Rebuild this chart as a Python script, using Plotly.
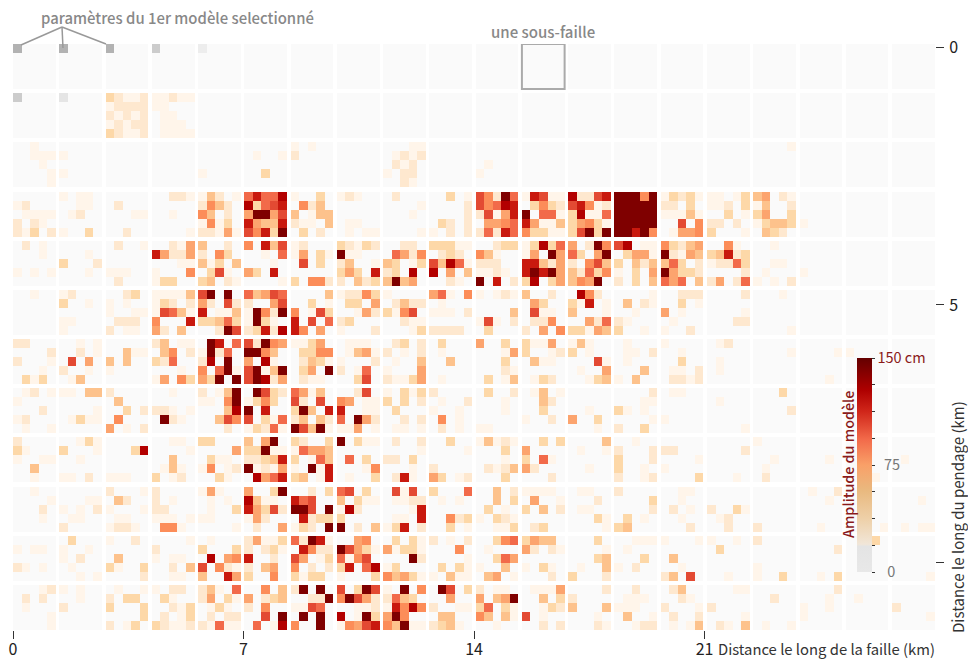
import plotly.graph_objects as go

# Amplitude levels (0-b) read per cell; one block of five digits = one sub-fault, 5 lines = one row of sub-faults
rangee_00 = ["", "", "", "", ""]
rangee_01 = [
"00000 00000 32112 11211",
"00000 00000 12222 11000",
"00000 00000 21212 01100",
"00000 00000 12122 01110",
"00000 00000 32112 01111"]
rangee_02 = [
"00100 00000 00000 00000 00000 00000 10100 00000 00011 00000 00000 00000 00000 00000 00000 00000 00001",
"00111 10000 00000 00000 00000 01001 20000 00000 01212",
"00010 00000 00000 00000 00000 00000 00000 00000 02120 00000 01000",
"00001 10000 00000 00000 10000 00300 00000 00000 10220 00000 10000",
"00001 00000 00000 00000 00000 00000 00000 00000 00210"]
rangee_03 = [
"00000 10110 00000 00221 14201 7977a 10030 12100 02000 00301 862b7 19811 a2289 bbb6b 13231 11013 45021",
"12000 00110 02000 00000 26420 a3789 06240 00000 00001 00002 867a9 03632 89612 bbbbb 22030 11203 14002",
"01111 01200 00011 00100 64020 5bb58 40144 00000 00010 00002 28159 b0771 3a117 bbbbb 11141 00301 35003",
"20210 00000 00000 00000 16130 95449 21104 01100 00000 03202 05567 95114 35631 bbbbb 00806 22020 13443 10000",
"21302 10030 00200 00001 22151 8693b 03020 01011 00001 10202 27297 63311 38b3b bb9b6 01556 30001 04320"]
rangee_04 = [
"02010 00000 02001 00215 40020 60948 12000 32132 00220 33311 00233 13a37 502b6 8a011 63245 00610 00100",
"00010 00010 00000 95225 20630 00107 15031 b1100 07526 02320 64100 150b5 7305b 03551 b2154 34923 00000",
"00000 30002 00000 00011 41304 00010 08030 24001 43013 84a71 22200 99425 20684 30424 47302 12273 00110",
"10101 00010 11100 10006 03810 53090 00000 35309 230a0 a0504 11210 9b9b5 42736 10305 b5332 00002 01000 10000",
"00000 00000 02000 13300 34021 00001 30662 20423 4b450 00210 b0902 3a035 465b0 20304 75704 25027 10102"]
rangee_05 = [
"00100 12000 00230 11114 8b0b0 74587 00004 12263 10000 57106 10121 40020 0a620 00001 00222 00002 00010",
"00000 30010 10100 13202 52082 20058 00301 03305 02422 01000 00000 05300 31901 04021 00301",
"00000 00000 10011 18741 90114 1b62b 60183 00152 31680 11102 00004 08110 40001 00100 50100 00001",
"00000 11000 02220 60009 33473 1b310 90807 23000 00211 00000 18102 02260 00527 21000 01000 00022",
"00000 10000 20110 52040 002b8 2392a 96050 10002 00013 22220 03000 20506 33154 30010 10020 00000 00001"]
rangee_06 = [
"22000 00101 00000 24011 0b907 82b65 11350 01110 02302 03000 50030 31150 14100 01000 10000 01200",
"00002 00201 00411 04602 1b270 bb640 03366 01451 20102 01000 00015 30012 30100 01102 00100 00000 00001 00001 10000",
"20001 08050 40400 32700 2a0b0 50a10 02431 10002 01004 00400 00030 04110 00081 01000 00300 01000",
"00010 20010 10000 00010 607b1 8b14b 0350b 20170 10005 00000 00021 00000 01005 00040 01102 01000",
"03130 01400 00000 15063 53b0b 8ba25 02110 00380 21135 01000 03014 01320 00134 10400 02212 00000 00000 00010"]
rangee_07 = [
"01201 11044 20000 00100 2014b 0b832 75140 00280 10313 20000 03002 01401 00000 00002 01100 00000 00030",
"10000 00000 04000 00000 1106b 13630 82080 65011 30302 01002 00010 00420 00000 00011 00000 01000",
"00020 00001 00302 22101 0004a b0900 3b409 90011 03000 10010 00010 00300 00100 31010 00000 00000 00002",
"12000 01311 06000 0b210 00486 80317 24042 70b52 00202 06010 00000 10020 50030 00001 10000",
"01001 00000 50102 00000 00020 13271 b84b1 11501 01101 02010 11000 00000 00010 20030 00000 00001"]
rangee_08 = [
"20000 00131 00000 00110 33000 405b0 32003 b0311 02002 00300 14121 00303 00004 00100 00000 00000 10000",
"31000 30001 0003a 00001 00005 33b11 17554 00000 00001 00001 00030 50000 01001 20002 22000 00002",
"10011 00100 00000 00400 03110 22349 30174 07030 22030 00000 00010 30710 00000 30002 00001 00000 00100 00010 00000 01000",
"00400 00000 00000 01410 16012 b1215 10b19 00016 00010 20000 02124 52000 00100 30010 10000 00000 01000",
"00100 11020 11100 30120 00310 0a579 34019 01003 02910 53012 00030 00020 00000 20012 00003 00010 02000 00000 00010"]
rangee_09 = [
"00100 00000 20001 20000 15100 5003b 00203 78030 08180 30007 00402 11110 01100 20000 00110 00000 00000 01002",
"00001 00011 04200 20100 01010 a4110 97800 40311 01122 01010 00403 05001 00020 00003 00100 00000 00000 00010 00000 00010",
"00020 10102 10001 22000 01003 95382 bb80b 1a200 00019 00000 03010 30402 01100 00002 02010 20031",
"00010 01100 01100 11101 11000 15200 09233 30000 01109 00623 10321 00000 00031 03010 00100 01200",
"00000 20000 12210 06610 00001 02005 1320b b0204 13902 00301 00113 02300 00001 34000 00020 00200 20000 00100 00001 01011"]
rangee_10 = [
"00000 03000 10020 00001 01000 25113 72b91 00560 03031 20102 00367 35440 00030 00111 10001 10010 20000 00000 00030",
"10110 10010 00000 20000 30003 20231 09622 b8531 51331 00060 01000 52021 00001 01000 00000 03000 00000 00002",
"00000 10200 04000 10110 0a056 90020 85013 71680 000b2 00001 00375 00000 00034 00030 04000",
"21010 01000 31003 00204 80621 20450 60202 3907a 13000 03031 10040 10310 01004 10200 00100 00000 10000",
"00000 00101 00002 00110 40095 30060 31330 10003 64531 10411 04501 00020 30002 00000 24080 00100 10030 00103 00000 00001"]
rangee_11 = [
"00012 10100 01001 10220 24107 00604 2b0b0 803b8 10b06 0b803 20110 01115 00002 00200 02400 00011 00000 00002",
"02020 00100 20330 03100 25031 50234 0022b 6b852 27430 00500 5045b 00403 20000 01110 00210 00000 00200 00010 01000",
"01000 20000 30003 00213 01310 20600 11870 00112 196a6 20011 37031 00132 40004 11100 20001 20000 00000 10010 00000 20000",
"00001 00000 00003 02013 02022 0080b 0b0b0 a01b3 5b600 04400 64041 80100 00010 04001 02002 00001 00000 10000 00000 00001",
"00001 00000 20130 32112 21711 0701a 600b0 16589 64b11 23410 00100 00202 00021 00122 01014 02104 01001"]
RANGEES = [rangee_00, rangee_01, rangee_02, rangee_03, rangee_04, rangee_05,
           rangee_06, rangee_07, rangee_08, rangee_09, rangee_10, rangee_11]

# Amplitude (cm) of the first selected model: (sub-fault row, column, value)
modele_1 = [(0, 0, 150), (0, 1, 150), (0, 2, 150), (0, 3, 100), (0, 4, 35), (1, 0, 100), (1, 1, 50)]

teintes_niveaux = ["#fafafa", "#fff5ea", "#fee8cf", "#fdd8a8", "#fdc28c", "#fca46e",
                   "#fc8d59", "#f26a4a", "#e34a33", "#c9190e", "#b30000", "#7f0000"]
teintes_barre = [(0, "#e8e8e8"), (0.12, "#e4e4e4"), (0.13, "#f1e6d8"), (0.25, "#eed0a8"),
                 (0.38, "#e9b97f"), (0.5, "#f9a068"), (0.62, "#f26a4a"), (0.75, "#d0261a"),
                 (0.85, "#ae0000"), (1, "#640000")]
ticks_barre = [0, 18.75, 37.5, 56.25, 75, 93.75, 112.5, 131.25, 150]
textes_barre = ["\u00a0\u00a0\u00a00", "", "", "", "\u00a0\u00a075", "", "", "",
                '<span style="color:#8b1a1a">150 cm</span>']

NC, NR, NS = 20, 12, 5
CM_MAX = 150.0
PAS_X, BLOC_X = 1.405, 1.297          # km, sub-fault pitch and width along strike
PAS_Y, BLOC_Y = 0.9559, 0.8746        # km, sub-fault pitch and height along dip
Y0 = -0.072
FONT = "Noto Sans CJK JP"

def grille(valeur):
    z = []
    for r in range(NR):
        for s in range(NS):
            ligne = []
            for c in range(NC):
                ligne += [valeur(r, s, c, k) for k in range(NS)]
                if c < NC - 1:
                    ligne.append(None)
            z.append(ligne)
        if r < NR - 1:
            z.append([None] * len(z[-1]))
    return z

def amplitude(r, s, c, k):
    groupes = RANGEES[r][s].split()
    code = groupes[c][k] if c < len(groupes) else "0"
    return int(code, 16) * CM_MAX / 11

choix = {(r, c): v for r, c, v in modele_1}

# edges of cells, including the gaps between sub-faults
x_tous = []
for c in range(NC):
    x_tous += [c * PAS_X + BLOC_X * k / NS for k in range(NS + 1)]
y_tous = []
for r in range(NR):
    y_tous += [Y0 + r * PAS_Y + BLOC_Y * k / NS for k in range(NS + 1)]

fig = go.Figure()
fig.add_trace(go.Heatmap(
    z=[[0, CM_MAX]], x=x_tous[:3], y=y_tous[:2], zmin=0, zmax=CM_MAX, opacity=0,
    colorscale=[[p, t] for p, t in teintes_barre], hoverinfo="skip", showscale=True,
    colorbar=dict(
        thickness=15, thicknessmode="pixels", len=214, lenmode="pixels",
        x=(857 - 13) / 922, xanchor="left", xpad=0, y=1 - (572 - 44) / 586, yanchor="bottom", ypad=0,
        outlinewidth=0, borderwidth=0, bgcolor="rgba(0,0,0,0)",
        tickmode="array", tickvals=ticks_barre, ticktext=textes_barre, ticks="outside", ticklen=3,
        tickwidth=1, tickcolor="#333", tickfont=dict(family=FONT, size=14.5, color="#777")),
))
fig.add_trace(go.Heatmap(
    z=grille(amplitude), x=x_tous, y=y_tous, zmin=0, zmax=CM_MAX,
    colorscale=[[i / 11, t] for i, t in enumerate(teintes_niveaux)],
    showscale=False, hoverinfo="skip"))
fig.add_trace(go.Heatmap(
    z=grille(lambda r, s, c, k: choix.get((r, c)) if (s == 0 and k == 0 and (r, c) in choix) else None),
    x=x_tous, y=y_tous, zmin=0, zmax=CM_MAX,
    colorscale=[[0, "#ffffff"], [1, "#b2b2b2"]], showscale=False, hoverinfo="skip"))

def px(X):
    return (X - 13) / 922
def py(Y):
    return 1 - (Y - 44) / 586

formes = [dict(type="rect", xref="x", yref="y", x0=11 * PAS_X, x1=11 * PAS_X + BLOC_X,
               y0=Y0, y1=Y0 + BLOC_Y, line=dict(color="#aaaaaa", width=2))]
for X, Y in [(21, 45), (63, 48), (106, 44)]:
    formes.append(dict(type="line", xref="paper", yref="paper", x0=px(62), y0=py(27), x1=px(X), y1=py(Y),
                       line=dict(color="#999999", width=1.5)))

def note(txt, X, Y, couleur, taille, ancre="left", angle=0, poids=400):
    return dict(text=txt, xref="paper", yref="paper", x=px(X), y=py(Y), showarrow=False,
                xanchor=ancre, yanchor="middle", textangle=angle,
                font=dict(family=FONT, size=taille, color=couleur, weight=poids))

fig.update_layout(
    width=968, height=660, margin=dict(l=13, r=33, t=44, b=30, pad=0, autoexpand=False),
    paper_bgcolor="white", plot_bgcolor="white", font=dict(family=FONT), showlegend=False,
    xaxis=dict(range=[0, 28], tickmode="array", tickvals=[0, 7, 14, 21], ticks="outside", ticklen=8,
               tickwidth=1, tickcolor="#333", showgrid=False, zeroline=False, showline=False, automargin=False,
               ticklabelstandoff=-3, tickfont=dict(family=FONT, size=16, color="#222")),
    yaxis=dict(range=[Y0 + 11 * PAS_Y + BLOC_Y, Y0], side="right", tickmode="array", tickvals=[0, 5, 10],
               ticktext=["0", "5", ""], ticks="outside", ticklen=8, tickwidth=1, tickcolor="#333",
               showgrid=False, zeroline=False, ticklabelstandoff=2,
               showline=False, automargin=False, tickfont=dict(family=FONT, size=16, color="#222")),
    shapes=formes,
    annotations=[
        note("paramètres du 1er modèle selectionné", 39, 17, "#888888", 14.9, poids=500),
        note("une sous-faille", 543, 32, "#888888", 15, ancre="center", poids=500),
        note("Distance le long de la faille (km)", 937, 648, "#333333", 14.8, ancre="right"),
        note("Distance le long du pendage (km)", 957, 517, "#333333", 15, ancre="center", angle=-90),
        note("Amplitude du modèle", 847, 465, "#8b1a1a", 14.3, ancre="center", angle=-90, poids=500),
    ],
)

fig.write_html("out.html", config={"displayModeBar": False},
               post_script="document.body.style.margin='0';document.documentElement.style.overflow='hidden';")
